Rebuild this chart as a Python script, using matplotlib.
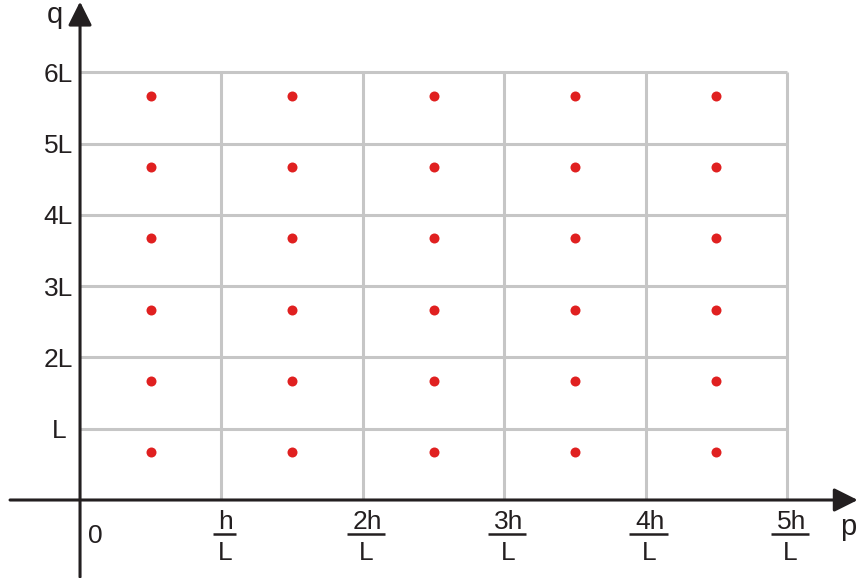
import matplotlib.pyplot as plt

# grid: 5 columns of width h/L, 6 rows of height L (unit = 1)
col_labels = ['h', '2h', '3h', '4h', '5h']
row_labels = ['L', '2L', '3L', '4L', '5L', '6L']
n_cols = len(col_labels)
n_rows = len(row_labels)

# red points, one per cell
punto_x = [0.5, 1.5, 2.5, 3.5, 4.5]
punto_y = [0.67, 1.67, 2.67, 3.67, 4.67, 5.67]

oscuro = '#231f20'
gris = '#c6c6c6'
rojo = '#e02020'

plt.rcParams['font.family'] = ['Liberation Sans', 'DejaVu Sans']

fig = plt.figure(figsize=(8.58, 5.78), dpi=100)
ax = fig.add_axes([0, 0, 1, 1])
ax.set_xlim(-0.566, 5.502)
ax.set_ylim(-1.094, 7.013)
ax.axis('off')

# grid lines
for j in range(1, n_rows + 1):
    ax.plot([0, n_cols], [j, j], color=gris, lw=2.2, zorder=1, solid_capstyle='butt')
for i in range(1, n_cols + 1):
    ax.plot([i, i], [0, n_rows], color=gris, lw=2.2, zorder=1, solid_capstyle='butt')

# points
for x in punto_x:
    for y in punto_y:
        ax.plot(x, y, 'o', color=rojo, markersize=7.2, markeredgewidth=0, zorder=3)

# axes with arrows
flecha = dict(arrowstyle='-|>,head_length=0.4,head_width=0.2', lw=2.2, color=oscuro,
              mutation_scale=36, shrinkA=0, shrinkB=0)
ax.annotate('', xy=(5.5, 0), xytext=(-0.495, 0), arrowprops=flecha, zorder=4)
ax.annotate('', xy=(0, 6.99), xytext=(0, -1.08), arrowprops=flecha, zorder=4)

fs = 19

# axis names
ax.text(5.375, -0.497, 'p', fontsize=21, color=oscuro, ha='left', va='baseline')
ax.text(-0.237, 6.696, 'q', fontsize=21, color=oscuro, ha='left', va='baseline')
ax.text(0.106, -0.603, '0', fontsize=fs, color=oscuro, ha='center', va='baseline')

# y tick labels
for j, lab in enumerate(row_labels, start=1):
    xpos = -0.097 if lab == 'L' else -0.05
    ax.text(xpos, j - 0.133, lab, fontsize=fs, color=oscuro, ha='right', va='baseline')

# x tick labels as fractions
fig.canvas.draw()
renderer = fig.canvas.get_renderer()
px = 1 / 141.4  # data units per pixel along x
for i, lab in enumerate(col_labels, start=1):
    num = ax.text(i + 4.5 * px, -0.407, lab, fontsize=fs, color=oscuro,
                  ha='center', va='baseline')
    bb = num.get_window_extent(renderer).transformed(ax.transData.inverted())
    ax.plot([bb.x0 - 6 * px, bb.x1 + 3 * px], [-0.47, -0.47], color=oscuro, lw=1.8,
            solid_capstyle='butt')
    ax.text(i + 3.5 * px, -0.841, 'L', fontsize=fs, color=oscuro, ha='center', va='baseline')

fig.savefig('out.png', dpi=100)
